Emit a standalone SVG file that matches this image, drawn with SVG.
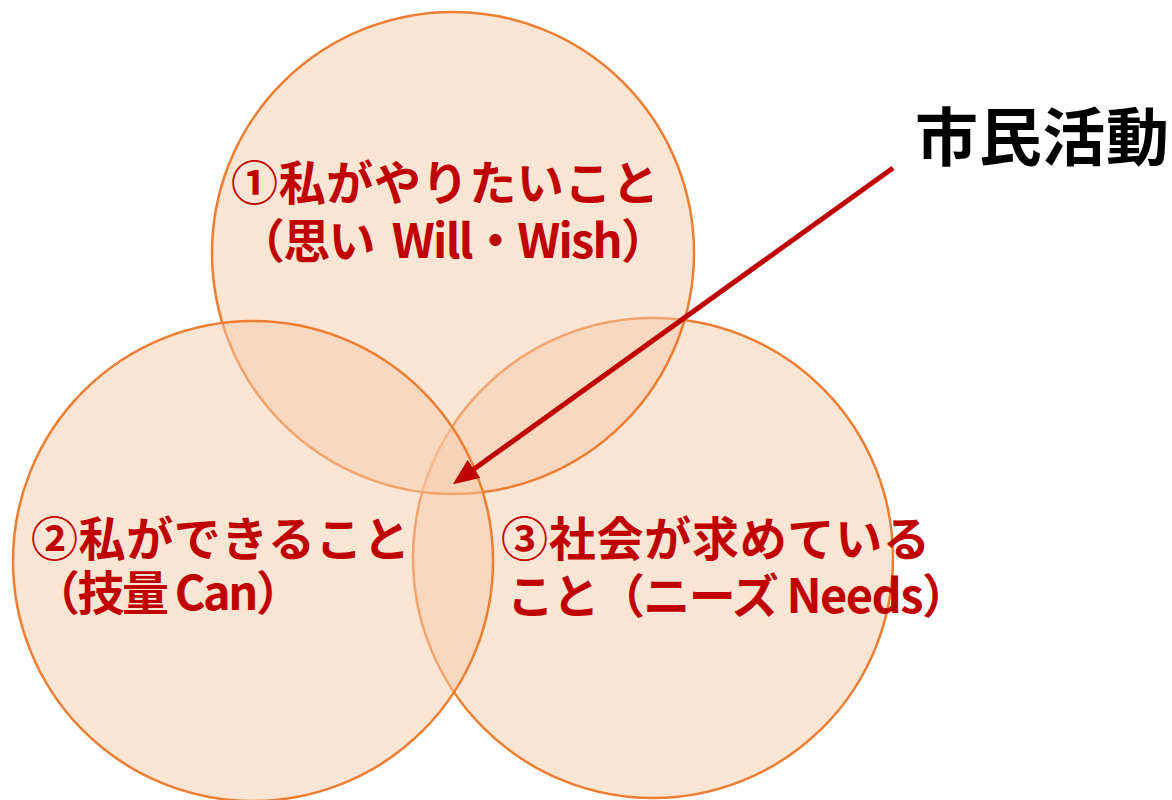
<svg xmlns="http://www.w3.org/2000/svg" width="1172" height="800" viewBox="0 0 1172 800">
  <defs>
    <style>
      .circ { fill: #F7CBAC; fill-opacity: 0.5; stroke: #ED7D31; stroke-width: 2.5; }
      .lbl { font-family: "Noto Sans CJK JP", "Noto Sans", sans-serif; font-weight: 700; font-size: 47px; fill: #C00000; white-space: pre; }
      .title { font-family: "Noto Sans CJK JP", "Noto Sans", sans-serif; font-weight: 700; font-size: 63px; fill: #000000; }
      .conn { stroke: #C00000; stroke-width: 5; fill: none; }
    </style>
    <marker id="arrow" viewBox="0 0 26 22" refX="0" refY="11" markerWidth="26" markerHeight="22" markerUnits="userSpaceOnUse" orient="auto">
      <path d="M0,0 L26,11 L0,22 z" fill="#C00000"/>
    </marker>
  </defs>
  <rect width="1172" height="800" fill="#FFFFFF"/>

  <g id="circle-needs">
    <circle class="circ" cx="653" cy="558" r="240"/>
  </g>
  <g id="circle-will">
    <circle class="circ" cx="453" cy="253" r="241"/>
  </g>
  <g id="circle-can">
    <circle class="circ" cx="253" cy="561" r="240"/>
  </g>

  <g id="label-will">
    <text class="lbl"><tspan x="231" y="200" textLength="428" lengthAdjust="spacing">①私がやりたいこと</tspan><tspan x="238" y="258" textLength="430" lengthAdjust="spacing">（思い  Will・Wish）</tspan></text>
  </g>
  <g id="label-can">
    <text class="lbl"><tspan x="31" y="556" textLength="379" lengthAdjust="spacing">②私ができること</tspan><tspan x="33" y="610" textLength="270" lengthAdjust="spacing">（技量 Can）</tspan></text>
  </g>
  <g id="label-needs">
    <text class="lbl"><tspan x="501" y="556" textLength="429" lengthAdjust="spacing">③社会が求めている</tspan><tspan x="507" y="613" textLength="462" lengthAdjust="spacing">こと（ニーズ Needs）</tspan></text>
  </g>

  <g id="node-shimin">
    <text class="title" x="915" y="160" textLength="254" lengthAdjust="spacing">市民活動</text>
  </g>

  <g id="connectors">
    <line class="conn" x1="893" y1="168" x2="474" y2="469" marker-end="url(#arrow)"/>
  </g>
</svg>
